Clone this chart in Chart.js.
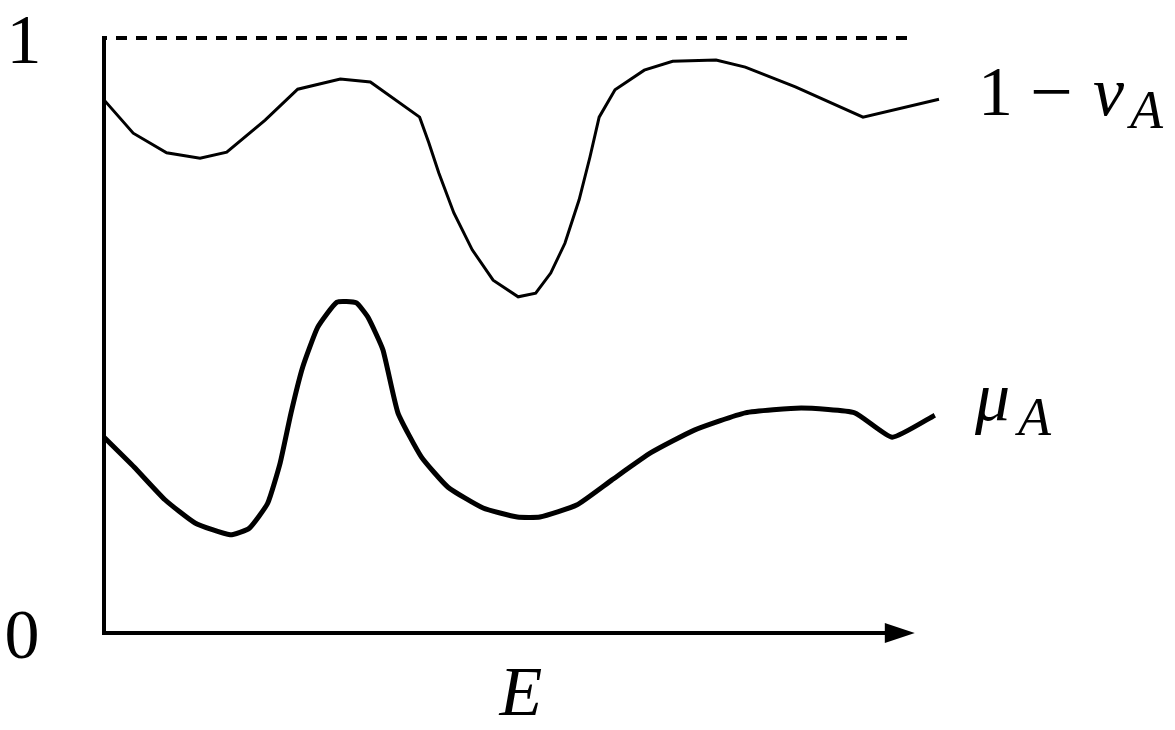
<!DOCTYPE html>
<html>
<head>
<meta charset="utf-8">
<script src="https://cdn.jsdelivr.net/npm/chart.js@4.4.1/dist/chart.umd.min.js"></script>
<style>
  html, body { margin: 0; padding: 0; background: #fff; }
  #wrap { width: 1175px; height: 730px; }
</style>
</head>
<body>
<div id="wrap"><canvas id="chart" width="1175" height="730"></canvas></div>
<script>
// E positions (0..100) and values
const nuE = [0, 3.5, 7.5, 11.5, 14.7, 19.3, 23.2, 28.3, 31.9, 37.8, 38.9, 40.1, 41.9, 44.1, 46.6,
  49.6, 51.7, 53.5, 55.2, 56.9, 58.2, 59.3, 61.2, 64.7, 68.1, 73.3, 76.8, 82.8, 90.9, 100];
const oneMinusNu = [0.896, 0.840, 0.807, 0.798, 0.808, 0.862, 0.914, 0.931, 0.926, 0.867, 0.824, 0.773, 0.706, 0.644, 0.593,
  0.565, 0.571, 0.605, 0.655, 0.728, 0.800, 0.867, 0.913, 0.946, 0.961, 0.963, 0.951, 0.918, 0.867, 0.897];

const muE = [0, 3.6, 7.3, 10.9, 15.1, 17.4, 19.6, 21.1, 22.4, 23.8, 25.6, 27.9, 30.2, 31.6, 33.4,
  35.2, 38.0, 41.2, 45.4, 49.5, 52.2, 56.6, 60.8, 65.5, 70.7, 76.8, 83.5, 89.9, 94.4, 99.5];
const mu = [0.329, 0.279, 0.224, 0.185, 0.165, 0.176, 0.218, 0.286, 0.370, 0.447, 0.514, 0.556, 0.555, 0.531, 0.476,
  0.370, 0.296, 0.245, 0.210, 0.195, 0.195, 0.215, 0.257, 0.303, 0.341, 0.370, 0.378, 0.370, 0.329, 0.366];

const boundE = [0, 96.2];
const bound = [1, 1];

const axisEnd = 97.1;   // arrow tip of the E axis
const yTicks = ['0', '1'];

const toPts = (xs, ys) => xs.map((x, i) => ({ x: x, y: ys[i] }));

const FONT = '"Liberation Serif"';

const axesPlugin = {
  id: 'axesPlugin',
  afterDraw(chart) {
    const ctx = chart.ctx;
    const xs = chart.scales.x, ys = chart.scales.y;
    const x0 = xs.getPixelForValue(0);
    const y0 = ys.getPixelForValue(0);
    const y1 = ys.getPixelForValue(1);
    const xEnd = xs.getPixelForValue(axisEnd);

    ctx.save();
    ctx.strokeStyle = '#000';
    ctx.fillStyle = '#000';
    ctx.lineWidth = 4;
    ctx.lineCap = 'butt';
    // vertical axis
    ctx.beginPath();
    ctx.moveTo(x0, y1 - 2);
    ctx.lineTo(x0, y0 + 2);
    ctx.stroke();
    // horizontal axis with arrow
    ctx.beginPath();
    ctx.moveTo(x0 - 2, y0);
    ctx.lineTo(xEnd - 20, y0);
    ctx.stroke();
    ctx.beginPath();
    ctx.moveTo(xEnd, y0);
    ctx.lineTo(xEnd - 30, y0 - 10);
    ctx.lineTo(xEnd - 30, y0 + 10);
    ctx.closePath();
    ctx.fill();

    // tick labels 0 and 1
    ctx.font = '70px ' + FONT;
    ctx.textAlign = 'center';
    ctx.textBaseline = 'alphabetic';
    ctx.fillText(yTicks[1], 24, y1 + 25);
    ctx.fillText(yTicks[0], 22, y0 + 25);

    // axis title
    ctx.font = 'italic 70px ' + FONT;
    ctx.fillText('E', 521, 715);

    // curve labels
    ctx.textAlign = 'left';
    const nuY = ys.getPixelForValue(oneMinusNu[oneMinusNu.length - 1]);
    const muY = ys.getPixelForValue(mu[mu.length - 1]);
    ctx.font = '70px ' + FONT;
    ctx.fillText('1', 978, nuY + 16);
    ctx.font = '76px ' + FONT;
    ctx.fillText('\u2212', 1030, nuY + 18);
    ctx.font = 'italic 70px ' + FONT;
    ctx.fillText('\u03bd', 1093, nuY + 16);
    ctx.font = 'italic 54px ' + FONT;
    ctx.fillText('A', 1130, nuY + 29);

    ctx.font = 'italic 70px ' + FONT;
    ctx.fillText('\u03bc', 975, muY + 5);
    ctx.font = 'italic 54px ' + FONT;
    ctx.fillText('A', 1018, muY + 20);
    ctx.restore();
  }
};

new Chart(document.getElementById('chart'), {
  type: 'line',
  data: {
    datasets: [
      {
        label: '1 - nu_A',
        data: toPts(nuE, oneMinusNu),
        borderColor: '#000',
        borderWidth: 3,
        pointRadius: 0,
        tension: 0,
        clip: false
      },
      {
        label: 'mu_A',
        data: toPts(muE, mu),
        borderColor: '#000',
        borderWidth: 5,
        pointRadius: 0,
        tension: 0.15,
        clip: false
      },
      {
        label: 'bound',
        data: toPts(boundE, bound),
        borderColor: '#000',
        borderWidth: 4,
        borderDash: [11, 9],
        borderDashOffset: 8,
        pointRadius: 0,
        clip: false
      }
    ]
  },
  options: {
    responsive: false,
    animation: false,
    layout: { padding: { left: 104, top: 38, right: 236, bottom: 97 } },
    plugins: { legend: { display: false }, tooltip: { enabled: false } },
    scales: {
      x: { type: 'linear', min: 0, max: 100, display: false },
      y: { type: 'linear', min: 0, max: 1, display: false }
    }
  },
  plugins: [axesPlugin]
});
</script>
</body>
</html>
